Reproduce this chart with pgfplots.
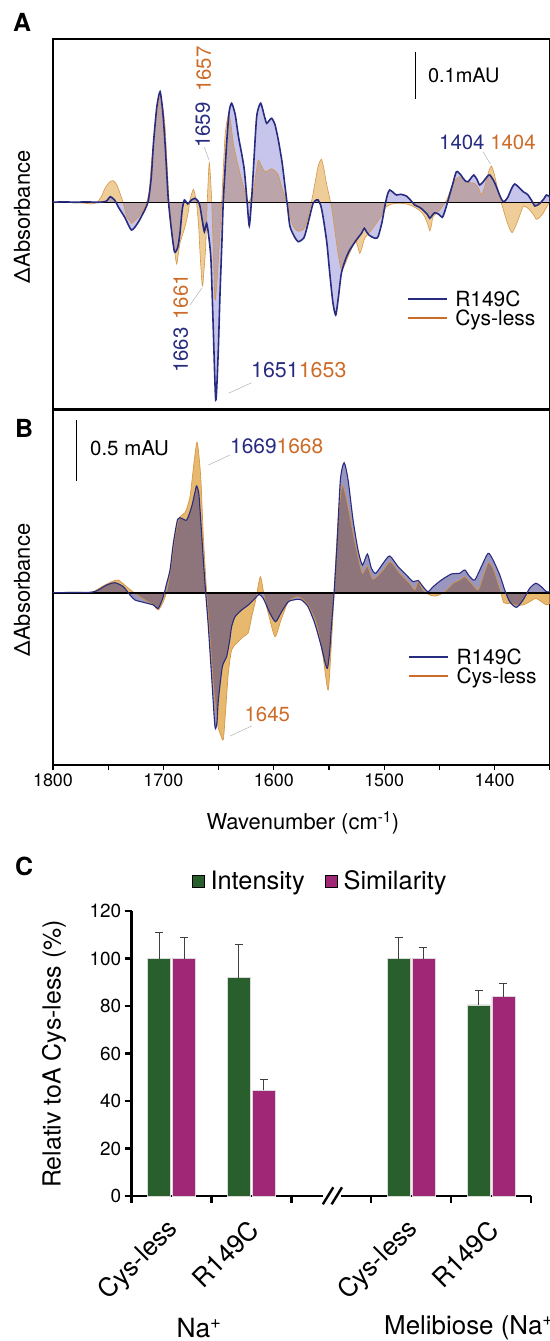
\documentclass[border=0pt]{standalone}
\usepackage{fontspec}
\setmainfont{TeX Gyre Heros}
\usepackage{pgfplots}
\pgfplotsset{compat=1.18}
\usepackage{pgfplotstable}
\definecolor{navy}{RGB}{40,44,128}
\definecolor{orng}{RGB}{205,108,40}
\definecolor{orfill}{RGB}{222,160,60}
\definecolor{lavfill}{RGB}{60,55,135}
\definecolor{lavfillA}{RGB}{100,95,200}
\definecolor{oredge}{RGB}{215,150,70}
\definecolor{cgreen}{RGB}{40,95,45}
\definecolor{cmag}{RGB}{160,38,118}
\newcommand{\fs}[1]{\fontsize{#1}{#1}\selectfont}

% Panel A, R149C (nu, delta absorbance, arbitrary units)
\pgfplotstableread{
nu h
1800 0
1790 0.5
1780 0
1770 0.5
1760 0
1752 1
1748 5.6
1744 2
1741 -4.4
1735 -15
1729 -27.7
1724 -22
1720 -14.4
1714 0
1711 25
1709 59
1706 95
1703 110.6
1700.5 90
1698.5 59
1697 30
1695.5 2
1693 -25
1690 -49.4
1687 -45
1685 -31
1683 -8
1681 2.3
1678 -1.7
1675 2
1671.4 4
1668.5 1
1666.8 -4.4
1664.5 -20
1662.9 -29.4
1660.8 -21
1658.8 -35
1656.9 -57.7
1655 -120
1652.6 -197.7
1650.5 -155
1648.7 -91
1647 -40
1645.7 2.3
1642.7 59
1640.5 90
1638.2 99
1635 88
1632 65.6
1629 48
1626.7 32.3
1624.5 5
1622.2 -23.4
1620 5
1618.5 32.3
1615.5 85.6
1611.9 99
1608.5 86
1606.5 79
1604 82
1601.9 84
1599 78
1595.9 62.3
1592.5 40
1589.8 15.6
1587.5 -5
1585.3 -24.4
1581 -35
1577.8 -39.4
1573 -36
1570.5 -27.7
1567 -12
1564.4 -1
1561.5 2.3
1559.9 2.3
1557.5 -3
1555.4 -14.4
1552 -40
1549.3 -71
1546.5 -100
1543.9 -112.7
1541.5 -95
1538.8 -71
1535 -57
1531.2 -47.7
1525.2 -37.7
1520.6 -31
1518 -26
1516.1 -29.4
1513.5 -33
1511.6 -34.4
1508 -36
1505.5 -34.4
1502 -20
1499.5 -4.4
1497 8
1495 12.3
1492 10
1488.9 7.3
1485 8
1479.9 6.3
1476 2
1472.3 -2.7
1468 -5
1464.8 -7.7
1461 -12
1458.7 -16
1456.5 -13
1454.2 -10.4
1450.5 -12
1447.3 -15
1444.5 -7
1442.1 2.3
1438 18
1434.6 30.6
1431 28
1428.5 24
1426 21
1424 20.6
1421.5 24
1418.9 27.3
1416 23
1413.5 17.3
1410 21
1406.5 26
1404.4 27.3
1401 22
1398.4 15.6
1395 6
1392.3 0.6
1390 2
1387.8 5.6
1384.5 14
1381.8 18.3
1378 15
1374.2 10.6
1371.5 9
1369.7 7.3
1366 1
1363.6 -3.7
1360 -2
1357.6 0.6
1355 4
1353.1 7.3
1350 5.6
}\ARtab

% Panel A, Cys-less
\pgfplotstableread{
nu h
1800 0
1790 0
1780 -0.5
1770 -1
1765 -1.7
1760 0
1756 6
1752.9 14
1749 20
1745.3 21.6
1742 17
1739.3 9
1736 -2
1733.3 -14.4
1730 -19
1728.7 -21
1722 -14
1716.7 -4.4
1713 10
1710.6 42.3
1707 78
1703.1 105.6
1700.5 95
1698.5 75.6
1696.5 35
1694.9 2.3
1691.9 -31
1690 -48
1688 -61.7
1686.5 -52
1685 -41
1682.5 -32
1680.4 -24.4
1677.5 -10
1675.9 2.3
1672.9 13
1670.8 5
1669.9 -1
1668 -25
1666.8 -51
1664.7 -83.7
1663 -65
1661.7 -44.4
1660.2 2.3
1658.4 39.6
1656.3 2.3
1654.5 -60
1653.2 -97.7
1651.5 -80
1650.2 -57.7
1647.2 0
1644.2 65.6
1641.2 87.3
1639 80
1636.7 59
1633 40
1629.1 22.3
1626 10
1623.1 0
1618.5 10.6
1616 30
1614 42.3
1611 36
1608 30.6
1605 32
1601.9 33.6
1598.5 31
1595.9 27.3
1592 12
1588.3 0
1585 -15
1582.3 -24.4
1578 -29
1573 -27
1570.5 -21
1567 -5
1564.4 9
1559.9 35.6
1556.9 43
1554.5 33
1552.3 19
1547.8 -4.4
1544.5 -30
1541.8 -51
1538.8 -67.7
1535.5 -62
1532.7 -54.4
1529 -45
1526.7 -37.7
1524.5 -42
1522.2 -51
1520 -45
1517.6 -36
1511.6 -27.7
1504 -16
1498 -4.4
1492 -1.5
1485.9 -1
1479.9 -1.7
1475 -3.5
1470.8 -6
1467 -9
1463.3 -14.4
1460.5 -22
1458.7 -28.4
1457 -22
1455.7 -14.4
1449.7 -7.7
1443.6 2
1440 12
1437.6 19
1434 24
1431.6 25.6
1428 23
1425.5 20.6
1421.5 19.5
1418 19
1414.5 14
1411.9 7.3
1409.5 14
1407.4 22.3
1405 32
1402.9 36.3
1400.5 29
1398.4 19
1396 8
1393.8 -1
1389.3 -17.7
1386.5 -26
1384.2 -30.4
1381.5 -25
1378.7 -17.7
1374.2 -4.4
1371 -5
1368.2 -7.7
1365 -12
1362.1 -17
1359 -15
1356.1 -11
1353 -5
1350 0.6
}\ACtab

% Panel B, R149C
\pgfplotstableread{
nu h
1800 0
1780 0.3
1765 0.5
1758.9 2.7
1751.4 7.7
1743.8 10
1736.3 6
1730.2 -2.3
1725.7 -7.3
1716.7 -10
1709.1 -12.3
1704.6 -15.6
1700.1 -4
1697 9.4
1694 22.7
1691 49.4
1687.1 73.4
1683.4 74.4
1678.9 72.7
1674.4 86
1671.5 100
1669.9 106.7
1668 100
1666.8 82.7
1663.8 32.7
1661.7 0
1659.3 -34
1656.3 -84
1653.3 -134
1651.5 -130
1650.2 -107.3
1646.6 -74
1642.7 -64
1640 -48
1638.2 -34
1635.1 -24
1629.1 -17.3
1623.1 -12.3
1617 -5.7
1613.4 -1.7
1609.5 -5.7
1603.4 -20.7
1598.3 -29
1592.9 -19
1586.8 -9
1579.3 -6.7
1574.8 -7.3
1569 -14
1562.9 -30.6
1556.9 -54
1553.5 -70
1551.4 -75.6
1549.5 -60
1547.8 -34
1545.4 0
1542.7 49.4
1539.7 112.7
1536.3 130
1532.7 112.7
1528.2 72.7
1523.7 42.7
1519.7 27.7
1515.2 38.7
1511.6 24.4
1507.7 19.4
1501 29.4
1495 36.7
1487.4 26
1479.9 17.7
1473.8 11
1469.3 12.3
1464.8 6
1460.3 1
1455.7 6
1448.2 12.7
1439.1 18.7
1431.6 19.4
1427 22.7
1422.5 16
1418 12.7
1412 26
1405.9 39.4
1401.4 32.7
1395.3 17.7
1390.8 2.7
1386.3 -9
1380.2 -14.7
1374.2 -7.3
1368.2 4.4
1362.7 9.4
1357.6 6
1353.1 1
1350 1
}\BRtab

% Panel B, Cys-less
\pgfplotstableread{
nu h
1800 0
1780 0.5
1765 0.5
1755.9 6
1746.9 11
1740.8 12.7
1733.3 6
1725.7 -0.7
1716.7 -7.3
1709.1 -12.3
1704.6 -17.3
1700.1 -9
1697 1
1694 19.4
1689.5 56
1685.5 75.4
1680.4 80
1675.9 96
1672 132.7
1669.3 150.4
1666.2 116
1663.8 56
1660.8 0
1657.8 -44
1654.8 -90.7
1651.1 -130.6
1648.1 -142.3
1645.7 -146.6
1643.6 -117.3
1641.2 -80.7
1638.2 -57.3
1633.6 -50.6
1627.6 -44
1623.1 -40
1620 -24
1616.4 -7.3
1612.2 16
1608.6 -4
1605 -20.7
1598.9 -44
1593.5 -27.3
1586.8 -9
1579.3 -4
1574.8 -5.7
1569 -12.3
1561.4 -30.7
1555.4 -64
1550.8 -97.3
1547.8 -50.6
1545.4 0
1541.8 72.7
1537.9 107.7
1532.7 86
1528.2 59.4
1523.7 36
1519.7 19.4
1515.2 26.7
1510.1 13.4
1501 22.7
1494.4 31
1485.9 19.4
1476.9 9.4
1472.3 2.7
1469.3 11
1464.8 2.7
1458.7 -2.3
1452.7 -3.3
1445.2 1
1437.6 9.4
1431.6 12.7
1427 16
1421 9.4
1415 2.7
1410.4 16
1405.9 30
1401.4 24.4
1395.3 4.4
1391.7 -10
1386.3 -10.6
1380.2 -12.3
1374.2 -12.3
1368.2 -9
1362.7 -5.7
1357.6 -9
1353.1 -12.3
1350 -10.6
}\BCtab

\pgfplotsset{
  spec/.style={
    scale only axis, width=496.8bp,
    xmin=1350, xmax=1800, x dir=reverse,
    ytick=\empty,
    axis line style={line width=1.2bp},
    /pgf/number format/1000 sep={},
    /pgf/number format/assume math mode=true,
    tick label style={font=\fs{18}},
    ylabel={ΔAbsorbance},
    legend image code/.code={\draw[##1] (0bp,0bp) -- (39bp,0bp);},
    legend cell align=left,
    legend style={draw=none, fill=none, inner sep=0pt, font=\fs{21},
      row sep=-1bp, nodes={inner sep=1.5bp},
      /tikz/every odd column/.append style={column sep=6bp}},
  },
  sm/.style={smooth, tension=0.4},
}

\begin{document}
\begin{tikzpicture}
\useasboundingbox (0,0) rectangle (550bp,-1341bp);

% ---------------- Panel A ----------------
\begin{axis}[spec, at={(53bp,-39bp)}, anchor=north west, height=370bp,
  ymin=-206.7, ymax=163.3, xtick=\empty,
  ylabel style={at={(axis description cs:-0.0624,0.519)}, anchor=center, font=\fs{22}},
  legend style={at={(axis description cs:0.7126,0.325)}, anchor=north west}]
\addplot[sm, draw=none, fill=orfill, fill opacity=0.52, forget plot] table[x=nu,y=h] {\ACtab} \closedcycle;
\addplot[sm, draw=none, fill=lavfillA, fill opacity=0.36, forget plot] table[x=nu,y=h] {\ARtab} \closedcycle;
\addplot[sm, oredge, line width=0.6bp, forget plot] table[x=nu,y=h] {\ACtab};
\addplot[black, line width=1.6bp, forget plot] coordinates {(1800,0) (1350,0)};
\addplot[sm, navy, line width=1.6bp, forget plot] table[x=nu,y=h] {\ARtab};
% scale bar
\addplot[black, line width=1.3bp, forget plot] coordinates {(1471.5,150.6) (1471.5,103)};
\node[anchor=west, font=\fs{20}] at (axis cs:1463.4,127.3) {0.1mAU};
% peak labels
\node[rotate=90, font=\fs{20.5}, text=orng] at (axis cs:1663.5,133.3) {1657};
\node[rotate=90, font=\fs{20.5}, text=navy] at (axis cs:1664.4,77.3) {1659};
\draw[gray!60, line width=0.5bp] (axis cs:1662.9,55) -- (axis cs:1658.7,42.3);
\node[rotate=90, font=\fs{20.5}, text=orng] at (axis cs:1684.3,-94.4) {1661};
\node[rotate=90, font=\fs{20.5}, text=navy] at (axis cs:1684.3,-147.7) {1663};
\draw[gray!60, line width=0.5bp] (axis cs:1675.9,-102.7) -- (axis cs:1665.3,-86);
\node[anchor=west, font=\fs{21.5}, inner sep=0pt] at (axis cs:1620.7,-167.7) {\textcolor{navy}{1651}\textcolor{orng}{1653}};
\draw[gray!60, line width=0.5bp] (axis cs:1641.1,-191) -- (axis cs:1620,-180.4);
\node[anchor=west, font=\fs{20.5}, inner sep=0pt] at (axis cs:1450.4,59.8) {\textcolor{navy}{1404} \textcolor{orng}{1404}};
\draw[gray!60, line width=0.5bp] (axis cs:1410.5,50.6) -- (axis cs:1403.8,38.3);
\addlegendimage{navy, line width=1.6bp}
\addlegendentry{R149C}
\addlegendimage{orng, line width=1.6bp}
\addlegendentry{Cys-less}
\end{axis}

% ---------------- Panel B ----------------
\begin{axis}[spec, at={(53bp,-410bp)}, anchor=north west, height=355bp,
  ymin=-172.3, ymax=182.7,
  xtick={1400,1500,1600,1700,1800}, minor xtick={1350,1450,1550,1650,1750},
  xtick pos=bottom, tick align=outside,
  major tick length=5bp, minor tick length=5bp,
  tick style={black, line width=1.2bp},
  xlabel={Wavenumber (cm\textsuperscript{-1})},
  xlabel style={at={(axis description cs:0.503,-0.163)}, anchor=center, font=\fs{22}},
  ylabel style={at={(axis description cs:-0.0624,0.493)}, anchor=center, font=\fs{22}},
  legend style={at={(axis description cs:0.715,0.333)}, anchor=north west}]
\addplot[sm, draw=none, fill=orfill, fill opacity=0.74, forget plot] table[x=nu,y=h] {\BCtab} \closedcycle;
\addplot[sm, draw=none, fill=lavfill, fill opacity=0.52, forget plot] table[x=nu,y=h] {\BRtab} \closedcycle;
\addplot[sm, oredge, line width=0.7bp, forget plot] table[x=nu,y=h] {\BCtab};
\addplot[black, line width=1.6bp, forget plot] coordinates {(1800,0) (1350,0)};
\addplot[sm, navy, line width=1.1bp, forget plot] table[x=nu,y=h] {\BRtab};
% scale bar
\addplot[black, line width=1.3bp, forget plot] coordinates {(1778.5,172.7) (1778.5,112)};
\node[anchor=west, font=\fs{20.5}] at (axis cs:1769.5,144.4) {0.5 mAU};
\node[anchor=west, font=\fs{21}, inner sep=0pt] at (axis cs:1639.7,146) {\textcolor{navy}{1669}\textcolor{orng}{1668}};
\draw[gray!60, line width=0.5bp] (axis cs:1659.2,127.7) -- (axis cs:1639.7,137.7);
\node[anchor=west, font=\fs{20.5}, inner sep=0pt, text=orng] at (axis cs:1626.6,-121.3) {1645};
\draw[gray!60, line width=0.5bp] (axis cs:1639.7,-143.3) -- (axis cs:1620,-133.3);
\addlegendimage{navy, line width=1.6bp}
\addlegendentry{R149C}
\addlegendimage{orng, line width=1.6bp}
\addlegendentry{Cys-less}
\end{axis}

% ---------------- Panel C ----------------
\begin{axis}[at={(131.6bp,-1196bp)}, anchor=south west, scale only axis,
  width=399.4bp, height=285bp, xmin=0, xmax=5, ymin=0, ymax=120,
  axis lines=left, axis line style={-, line width=2.6bp},
  clip=false,
  ytick={0,20,...,120}, xtick={0,1,2,3,4,5}, xticklabels={,,,,,},
  tick align=outside, major tick length=7bp,
  tick style={black, line width=2.4bp},
  /pgf/number format/assume math mode=true,
  yticklabel style={font=\fs{19}},
  extra x ticks={0.5,1.5,3.5,4.5},
  extra x tick labels={Cys-less,R149C,Cys-less,R149C},
  extra x tick style={major tick length=0pt,
     xticklabel style={font=\fs{26}, yshift=-27bp, xshift=5bp, rotate=45, anchor=east}},
  ylabel={Relativ toA Cys-less (\%)},
  ylabel style={at={(axis description cs:-0.194,0.498)}, anchor=center, font=\fs{25}},
  legend image code/.code={\fill[#1] (0bp,-6bp) rectangle (12.5bp,6bp);},
  legend columns=2,
  legend style={draw=none, fill=none, at={(axis description cs:0.472,1.105)}, anchor=center,
     font=\fs{25.5},
     /tikz/every odd column/.append style={column sep=4bp},
     /tikz/every even column/.append style={column sep=18bp}},
  error bars/error bar style={line width=0.8bp, black!75},
  error bars/error mark options={rotate=90, mark size=4bp, line width=0.8bp, black!75},
]
\addplot[ybar, bar width=23bp, bar shift=0pt, fill=cgreen, draw=white!85!black, line width=0.5bp, forget plot,
  error bars/.cd, y dir=plus, y explicit]
  coordinates {(0.344,100) +- (0,11) (1.341,92) +- (0,14) (3.343,100) +- (0,9) (4.346,80.5) +- (0,6)};
\addplot[ybar, bar width=23bp, bar shift=0pt, fill=cmag, draw=white!85!black, line width=0.5bp, forget plot,
  error bars/.cd, y dir=plus, y explicit]
  coordinates {(0.657,100) +- (0,9) (1.655,44.5) +- (0,4.5) (3.654,100) +- (0,4.6) (4.654,84) +- (0,5.5)};
\addlegendimage{fill=cgreen}
\addlegendentry{Intensity}
\addlegendimage{fill=cmag}
\addlegendentry{Similarity}
\end{axis}
% axis break
\fill[white] (322.5bp,-1201bp) rectangle (341bp,-1191bp);
\draw[line width=2.4bp] (322.8bp,-1204.3bp) -- (333.3bp,-1187.3bp);
\draw[line width=2.4bp] (331.6bp,-1204.3bp) -- (342bp,-1187.3bp);

% group labels and panel letters
\node[font=\fs{26.5}] at (199bp,-1328bp) {Na\textsuperscript{+}};
\node[font=\fs{26}, anchor=west] at (380.7bp,-1328bp) {Melibiose (Na\textsuperscript{+})};
\node[font=\bfseries\fs{25}] at (22bp,-22bp) {A};
\node[font=\bfseries\fs{25}] at (24bp,-428bp) {B};
\node[font=\bfseries\fs{25}] at (24bp,-866bp) {C};
\end{tikzpicture}
\end{document}
